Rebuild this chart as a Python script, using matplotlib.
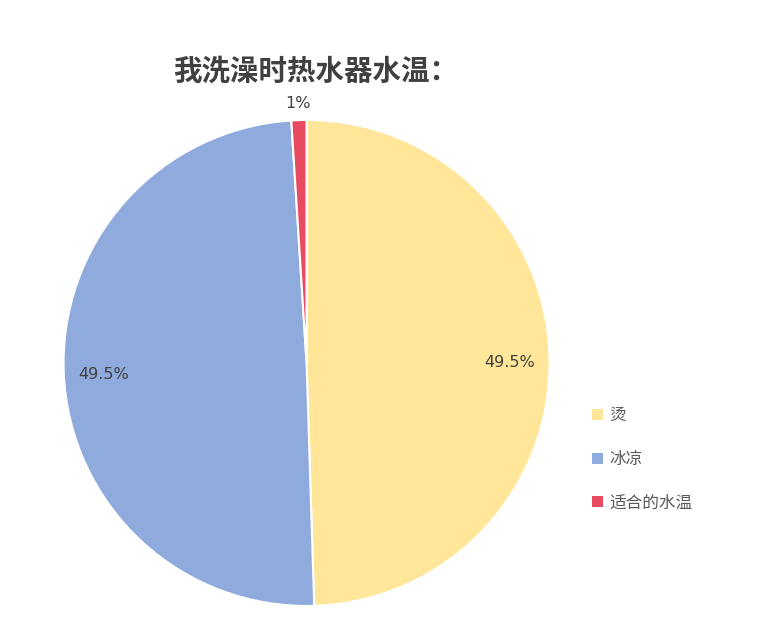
import matplotlib
matplotlib.use("Agg")
import matplotlib.pyplot as plt
import numpy as np
from matplotlib.patches import Patch

plt.rcParams["font.family"] = ["Noto Sans CJK SC", "DejaVu Sans"]

labels = ["烫", "冰凉", "适合的水温"]
values = [49.5, 49.5, 1]
pct_text = ["49.5%", "49.5%", "1%"]
colors = ["#FFE699", "#8FAADC", "#E84A5F"]

fig = plt.figure(figsize=(7.77, 6.21), dpi=100)
ax = fig.add_axes([0.0818, 0.0242, 0.6255, 0.7826])

wedges, _ = ax.pie(
    values, colors=colors, startangle=90, counterclock=False,
    wedgeprops=dict(edgecolor="white", linewidth=1.5),
)
# small slice label goes outside, big ones inside
for w, t in zip(wedges, pct_text):
    ang = np.deg2rad((w.theta1 + w.theta2) / 2)
    r = 1.08 if (w.theta2 - w.theta1) < 10 else 0.835
    ax.text(r * np.cos(ang), r * np.sin(ang) - 0.01, t, ha="center", va="center",
            fontsize=11.5, color="#404040", family=["DejaVu Sans"])
ax.set_xlim(-1, 1)
ax.set_ylim(-1, 1)
ax.set_aspect("equal")
ax.axis("off")

fig.text(0.406, 0.885, "我洗澡时热水器水温：", ha="center", va="center",
         fontsize=20.5, fontweight="bold", color="#404040")

handles = [Patch(facecolor=c, edgecolor="none") for c in colors]
fig.legend(handles, labels, loc="center left", bbox_to_anchor=(0.743, 0.26),
           frameon=False, fontsize=12, labelcolor="#595959",
           handlelength=0.65, handleheight=0.65, handletextpad=0.35, labelspacing=1.6)

fig.savefig("out.png", dpi=100, facecolor="white")
